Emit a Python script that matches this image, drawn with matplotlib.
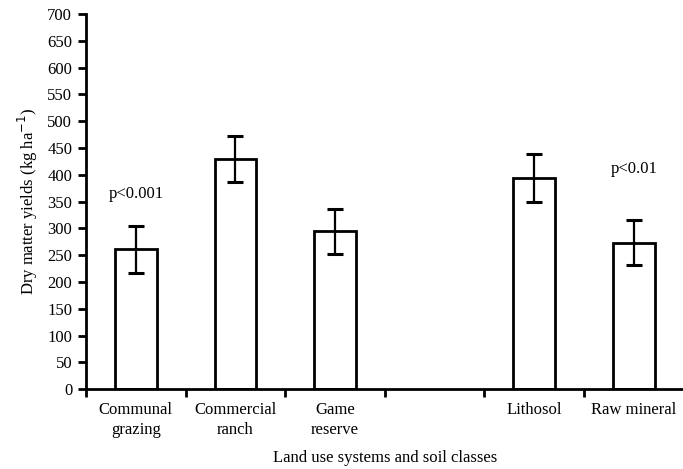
import numpy as np
import matplotlib.pyplot as plt

# chart data (blank slot separates land use systems from soil classes)
categories = ["Communal\ngrazing", "Commercial\nranch", "Game\nreserve", "", "Lithosol", "Raw mineral"]
yields = [261, 429, 295, np.nan, 394, 273]
errors = [44, 43, 42, np.nan, 45, 42]
notes = [("p<0.001", 0, 364), ("p<0.01", 5, 411)]

plt.rcParams["font.family"] = ["Liberation Serif", "DejaVu Serif"]
plt.rcParams["font.size"] = 12

fig = plt.figure(figsize=(6.83, 4.69), dpi=100)
ax = fig.add_axes([0.126, 0.170, 0.875, 0.800])

x = np.arange(len(categories))
ax.bar(x, yields, width=0.42, color="white", edgecolor="black", linewidth=2)
ax.errorbar(x, yields, yerr=errors, fmt="none", ecolor="black",
            elinewidth=1.6, capsize=6, capthick=2.2)

for txt, i, yv in notes:
    ax.text(x[i], yv, txt, ha="center", va="center", fontsize=12)

ax.set_xlim(-0.5, len(categories) - 0.5)
ax.set_ylim(0, 700)
ax.set_yticks(np.arange(0, 701, 50))

# tick marks at category boundaries, labels at centres
ax.set_xticks(np.arange(len(categories) + 1) - 0.5)
ax.set_xticklabels([])
ax.set_xticks(x, minor=True)
ax.set_xticklabels(categories, minor=True, linespacing=1.35)
ax.tick_params(axis="x", which="minor", length=0, pad=9)
ax.tick_params(axis="x", which="major", length=6, width=2, direction="out")
ax.tick_params(axis="y", length=6, width=2, direction="out", pad=4)

for side in ["top", "right"]:
    ax.spines[side].set_visible(False)
for side in ["left", "bottom"]:
    ax.spines[side].set_linewidth(2)

ax.set_ylabel("Dry matter yields (kg ha$^{-1}$)", labelpad=5)
ax.set_xlabel("Land use systems and soil classes", labelpad=9)

fig.savefig("out.png", dpi=100)
